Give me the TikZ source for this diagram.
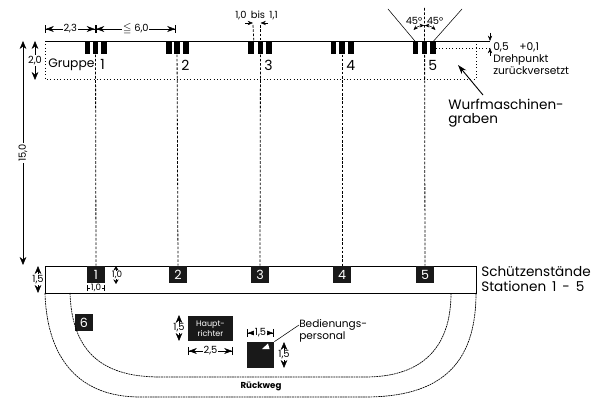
\documentclass[tikz,border=0pt]{standalone}
\usepackage{amssymb}
\usepackage{fontspec}
\setmainfont{Poppins}
\usetikzlibrary{arrows.meta}
\tikzset{
  trench/.style={line width=0.5pt,dotted},
  aimline/.style={line width=0.6pt,dash pattern=on 2pt off 1.2pt},
  pathline/.style={line width=0.5pt,dash pattern=on 1.4pt off 0.5pt},
  dimline/.style={line width=0.4pt,{Bar[width=6pt,line width=0.6pt]Stealth[length=6pt,width=4.5pt]}-{Stealth[length=6pt,width=4.5pt]Bar[width=6pt,line width=0.6pt]}},
  heightline/.style={line width=0.4pt,{Stealth[length=6pt,width=5pt]}-{Stealth[length=6pt,width=5pt]}},
  pointer/.style={line width=0.4pt,-{Stealth[length=4pt,width=3.2pt]}},
  barbox/.style={fill=black,inner sep=0pt,minimum width=3.8pt,minimum height=9pt},
  standbox/.style={fill=black!90,text=white,inner sep=0pt,minimum width=13.5pt,minimum height=12.8pt,font=\fontsize{9.5}{10}\selectfont},
  dimtext/.style={inner sep=0.6pt,font=\fontsize{7.4}{8}\selectfont},
  numtext/.style={anchor=west,inner sep=0pt,font=\fontsize{10.5}{11}\selectfont},
  lbltext/.style={anchor=west,inner sep=0pt,align=left,font=\fontsize{10.2}{10.6}\selectfont}
}
\begin{document}
\begin{tikzpicture}[x=0.75pt,y=0.75pt,yscale=-1,xscale=1]
		\useasboundingbox (0,0) rectangle (595,398);

		%Shape: Trench
		\coordinate (trenchNW) at (45,41);
		\coordinate (trenchNE) at (476,41);
		\coordinate (trenchSW) at (45,79);
		\coordinate (trenchSE) at (476,79);
		\coordinate (pivotE) at (490,41);
		\draw [line width=0.5pt] (trenchNW) -- (pivotE) ;
		\draw [trench] (trenchNW) -- (trenchSW) -- (trenchSE) -- (trenchNE) ;

		%Shape: Stand strip
		\node (strip) [draw,line width=0.5pt,inner sep=0pt,minimum width=323.25pt,minimum height=20.25pt] at (260.5,279.5) {};

		%Shape: Machines
		\node (bar1a) [barbox] at (87.5,48) {};
		\node (bar1) [barbox] at (95.5,48) {};
		\node (bar1c) [barbox] at (104,48) {};
		\node (bar2a) [barbox] at (169,48) {};
		\node (bar2) [barbox] at (177,48) {};
		\node (bar2c) [barbox] at (186,48) {};
		\node (bar3a) [barbox] at (251,48) {};
		\node (bar3) [barbox] at (260.5,48) {};
		\node (bar3c) [barbox] at (269,48) {};
		\node (bar4a) [barbox] at (333.5,48) {};
		\node (bar4) [barbox] at (342,48) {};
		\node (bar4c) [barbox] at (351,48) {};
		\node (bar5a) [barbox] at (415.5,48) {};
		\node (bar5) [barbox] at (424.5,48) {};
		\node (bar5c) [barbox] at (433,48) {};

		%Shape: Stands
		\node (stand1) [standbox] at (96,274.5) {1};
		\node (stand2) [standbox] at (178,274.5) {2};
		\node (stand3) [standbox] at (260,274.5) {3};
		\node (stand4) [standbox] at (342,274.5) {4};
		\node (stand5) [standbox] at (425,274.5) {5};
		\node (stand6) [standbox] at (84,322.5) {6};

		%Shape: Head referee and crew
		\node (referee) [fill=black!90,text=white,inner sep=0pt,minimum width=33.75pt,minimum height=18.75pt,align=center,font=\fontsize{6}{7.4}\selectfont] at (210.5,328.5) {Haupt-\\richter};
		\node (crew) [fill=black!90,inner sep=0pt,minimum width=20.25pt,minimum height=19.5pt] at (260.5,355) {};
		\fill [white] (262,349) -- (268,343.5) -- (269.5,349) -- cycle ;

		%Straight Lines
		\coordinate (aimtop) at (424.5,8);
		\draw [aimline] (bar1.north) -- (stand1.north) ;
		\draw [aimline] (bar2.north) -- (stand2.north) ;
		\draw [aimline] (bar3.north) -- (stand3.north) ;
		\draw [aimline] (bar4.north) -- (stand4.north) ;
		\draw [aimline] (aimtop) -- (stand5.north) ;

		%Curve Lines
		\coordinate (walkA) at (70,293);
		\coordinate (walkB) at (451,293);
		\coordinate (walkC) at (45,293);
		\coordinate (walkD) at (476,293);
		\draw [pathline] (walkA) .. controls (72,350) and (100,377) .. (160,377) -- (365,377) .. controls (425,377) and (451,345) .. (walkB) ;
		\draw [pathline] (walkC) .. controls (47,360) and (80,397) .. (140,397) -- (365,397) .. controls (440,397) and (476,365) .. (walkD) ;

		%Straight Lines: firing sector
		\coordinate (pivot) at (424.5,41);
		\coordinate (rayL) at (388,9);
		\coordinate (rayR) at (462,9);
		\draw [line width=0.4pt] (rayL) -- (bar5a.north) ;
		\draw [line width=0.4pt] (rayR) -- (bar5c.north) ;
		\draw [line width=0.4pt,{Stealth[length=3.5pt,width=2.8pt]}-{Stealth[length=3.5pt,width=2.8pt]}] (pivot) ++(225:15.5) arc (225:269:15.5) ;
		\draw [line width=0.4pt,{Stealth[length=3.5pt,width=2.8pt]}-{Stealth[length=3.5pt,width=2.8pt]}] (pivot) ++(271:15.5) arc (271:315:15.5) ;

		%Dimension lines, top
		\coordinate (dimA) at (45,29);
		\coordinate (dimB) at (95.5,29);
		\coordinate (dimC) at (176,29);
		\draw [dimline] (dimA) -- node (dim23) [dimtext,fill=white] {2,3} (dimB) ;
		\draw [dimline] (dimB) -- node (dim60) [dimtext,fill=white] {$\leqq$ 6,0} (dimC) ;

		\coordinate (gapA) at (253,23);
		\coordinate (gapB) at (260.5,23);
		\coordinate (gapAout) at (245,23);
		\coordinate (gapBout) at (268,23);
		\coordinate (gapAtop) at (253,25);
		\coordinate (gapBtop) at (260.5,25);
		\draw [pointer] (gapAout) -- (gapA) ;
		\draw [pointer] (gapBout) -- (gapB) ;
		\draw [aimline] (gapAtop) -- (bar3a.north east) ;
		\draw [aimline] (gapBtop) -- (bar3.north) ;

		%Dimension lines, left and stands
		\coordinate (h15a) at (23,41);
		\coordinate (h15b) at (23,265);
		\draw [heightline] (h15a) -- node (dim150) [dimtext,fill=white,rotate=90] {15,0} (h15b) ;
		\coordinate (h20a) at (35,41);
		\coordinate (h20b) at (35,80);
		\draw [heightline] (h20a) -- node (dim20) [dimtext,fill=white] {2,0} (h20b) ;
		\draw [heightline] (38,266) coordinate (h1a) -- node (dim15a) [dimtext,fill=white] {1,5} (38,293) coordinate (h1b) ;
		\draw [line width=0.4pt,{Stealth[length=3.5pt,width=4pt]}-{Stealth[length=3.5pt,width=4pt]}] (116,266) coordinate (h10a) -- (116,284) coordinate (h10b) ;
		\node (dim10) [dimtext,fill=white,inner sep=0pt,font=\fontsize{6.6}{7}\selectfont] at (117,275) {1,0};
		\draw [line width=0.4pt,|-|] (87,288) coordinate (w10a) -- node (dim10w) [dimtext,fill=white,font=\fontsize{6.6}{7}\selectfont] {1,0} (105,288) coordinate (w10b) ;

		%Dimension lines, referee and crew
		\draw [heightline] (179,315) coordinate (refA) -- node (dim15b) [dimtext,fill=white] {1,5} (179,341) coordinate (refB) ;
		\draw [dimline] (188,351) coordinate (refC) -- node (dim25) [dimtext,fill=white] {2,5} (233,351) coordinate (refD) ;
		\draw [dimline] (247,333) coordinate (crewA) -- node (dim15c) [dimtext,fill=white] {1,5} (274,333) coordinate (crewB) ;
		\draw [heightline] (284,342) coordinate (crewC) -- node (dim15d) [dimtext,fill=white] {1,5} (284,368) coordinate (crewD) ;

		%Dimension lines, pivot offset
		\coordinate (offA) at (490,33);
		\coordinate (offB) at (490,41);
		\coordinate (offC) at (490,56);
		\coordinate (offD) at (490,48);
		\draw [pointer] (offA) -- (offB) ;
		\draw [pointer] (offC) -- (offD) ;
		\draw [trench] (bar5c.east |- offD) -- (offD) ;

		% Text Node
		\node (gruppe) [lbltext] at (48,64.5) {\fontsize{9.2}{11}\selectfont Gruppe};
		\node (num1) [numtext] at (100,64.5) {1};
		\node (num2) [numtext] at (181,65.5) {2};
		\node (num3) [numtext] at (264,65.5) {3};
		\node (num4) [numtext] at (346,65.5) {4};
		\node (num5) [numtext] at (428,65.5) {5};
		% Text Node
		\node (bis) [dimtext] at (256.5,15.5) {1,0\, bis\, 1,1};
		% Text Node
		\node (deg1) [dimtext] at (414,21) {45°};
		\node (deg2) [dimtext] at (435,21) {45°};
		% Text Node
		\node (offset) [lbltext,font=\fontsize{8}{9}\selectfont] at (493,47.5) {0,5\quad +0,1};
		\node (pivottxt) [lbltext,font=\fontsize{8}{9}\selectfont] at (493,65) {Drehpunkt\\zurückversetzt};
		% Text Node
		\node (graben) [lbltext] at (448,113) {Wurfmaschinen-\\graben};
		\coordinate (grabenA) at (483,95);
		\coordinate (grabenB) at (458,65);
		\draw [line width=0.7pt,-{Stealth[length=7pt,width=4.5pt]}] (grabenA) -- (grabenB) ;
		% Text Node
		\node (stands) [lbltext] at (481,279) {Schützenstände\\Stationen\, 1\, -\, 5};
		% Text Node
		\node (personal) [lbltext,font=\fontsize{7.9}{9}\selectfont] at (299,331) {Bedienungs-\\personal};
		\draw [line width=0.4pt] (crew.north east) -- (personal.west |- 0,325) ;
		% Text Node
		\node (rueckweg) [font=\fontsize{6.5}{7}\selectfont\bfseries,inner sep=0pt] at (261,386.5) {Rückweg};
\end{tikzpicture}
\end{document}
